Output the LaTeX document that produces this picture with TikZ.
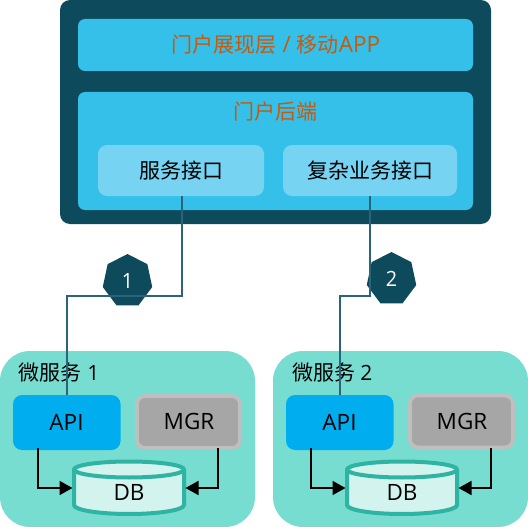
\documentclass[tikz,border=0pt]{standalone}
\usepackage{fontspec}
\setmainfont{Open Sans}
\newfontfamily\zh{Noto Sans CJK SC}
\usetikzlibrary{shapes.geometric,arrows.meta}
\definecolor{darkteal}{HTML}{0C4A5C}
\definecolor{skyb}{HTML}{35C0E9}
\definecolor{lightsky}{HTML}{76D4F2}
\definecolor{mint}{HTML}{78DDD1}
\definecolor{apiblue}{HTML}{00AEEF}
\definecolor{mgrgray}{HTML}{A6A6A6}
\definecolor{mgrline}{HTML}{BFBFBF}
\definecolor{dbfill}{HTML}{D3F3EF}
\definecolor{dbline}{HTML}{2FB3A3}
\definecolor{orangetxt}{HTML}{C55A11}
\definecolor{wire}{HTML}{2A6478}
\tikzset{
  x=1pt,y=-1pt,
  box/.style={anchor=north west,inner sep=0pt,outer sep=0pt},
  panel/.style={box,fill=skyb,rounded corners=7pt},
  iface/.style={box,fill=lightsky,rounded corners=9pt,minimum height=51pt},
  service/.style={box,fill=mint,rounded corners=30pt,minimum width=255pt,minimum height=176pt},
  api/.style={box,fill=apiblue,rounded corners=9pt,minimum width=107.5pt,minimum height=55pt},
  mgr/.style={box,fill=mgrgray,draw=mgrline,line width=3.8pt,rounded corners=8pt,minimum width=103pt,minimum height=52pt},
  badge/.style={regular polygon,regular polygon sides=7,fill=darkteal,text=white,inner sep=0pt,outer sep=0pt,minimum size=54pt,font=\fontsize{21}{25}\selectfont},
  wirel/.style={draw=wire,line width=1.8pt},
  arr/.style={draw=black,line width=1.8pt,-{Triangle[length=13pt,width=14pt]}},
  lab/.style={inner sep=0pt,outer sep=0pt,font=\fontsize{21}{25}\selectfont},
  latlab/.style={inner sep=0pt,outer sep=0pt,font=\fontsize{22.5}{26}\selectfont},
}
\newcommand{\dbcyl}[3]{% centre x, name, label
  \path[fill=dbfill,draw=dbline,line width=4pt]
    (#1-55,469.5) -- (#1-55,505) arc[start angle=180,end angle=360,x radius=55,y radius=-9] -- (#1+55,469.5)
    arc[start angle=0,end angle=180,x radius=55,y radius=-8] -- cycle;
  \path[draw=dbline,line width=4pt]
    (#1-55,469.5) arc[start angle=180,end angle=360,x radius=55,y radius=-8];
  \coordinate (#2l) at (#1-56.5,488);
  \coordinate (#2r) at (#1+56.5,488);
  \node[latlab] (#2) at (#1,492) {#3};
}
\begin{document}
\begin{tikzpicture}
\useasboundingbox (0,0) rectangle (528,527);
\node[box,fill=darkteal,rounded corners=10pt,minimum width=431pt,minimum height=224pt] (outer) at (60,0) {};
\node[panel,minimum width=395pt,minimum height=52pt] (top) at (78,19) {};
\node[latlab,text=orangetxt] (toplab) at (276,45) {{\zh\fontsize{21}{25}\selectfont 门户展现层} / {\zh\fontsize{21}{25}\selectfont 移动}APP};
\node[panel,minimum width=395pt,minimum height=118pt] (back) at (78,92) {};
\node[lab,text=orangetxt] (backlab) at (275.5,112) {\zh 门户后端};
\node[iface,minimum width=166pt] (if1) at (98,145) {};
\node[lab] (if1lab) at (181,171) {\zh 服务接口};
\node[iface,minimum width=174pt] (if2) at (283,145) {};
\node[lab] (if2lab) at (370,171) {\zh 复杂业务接口};

\node[service] (s1) at (0,351) {};
\node[service] (s2) at (273,351) {};
\node[lab,anchor=west] (s1lab) at (19,373) {{\zh 微服务} 1};
\node[lab,anchor=west] (s2lab) at (292,373) {{\zh 微服务} 2};

\node[api] (api1) at (13,395) {};
\node[latlab] (api1lab) at (66.5,422) {API};
\node[api] (api2) at (286,395) {};
\node[latlab] (api2lab) at (339.5,422) {API};
\node[mgr] (mgr1) at (137,396) {};
\node[latlab] (mgr1lab) at (189,421) {MGR};
\node[mgr] (mgr2) at (410,395.5) {};
\node[latlab] (mgr2lab) at (462,421) {MGR};

\dbcyl{129}{db1}{DB}
\dbcyl{402}{db2}{DB}

\node[badge,xscale=.94] (b1) at (127.5,281) {1};
\node[badge,xscale=.94] (b2) at (391.5,279) {2};

\draw[wirel] (if1.south -| 182,0) -- (182,296) -- (67,296) -- (api1.north -| 67,0);
\draw[wirel] (if2.south -| 370,0) -- (370,296) -- (340,296) -- (api2.north -| 340,0);

\draw[arr] (38,448) |- (db1l);
\draw[arr] (218,448) |- (db1r);
\draw[arr] (311,448) |- (db2l);
\draw[arr] (491,448) |- (db2r);
\end{tikzpicture}
\end{document}
